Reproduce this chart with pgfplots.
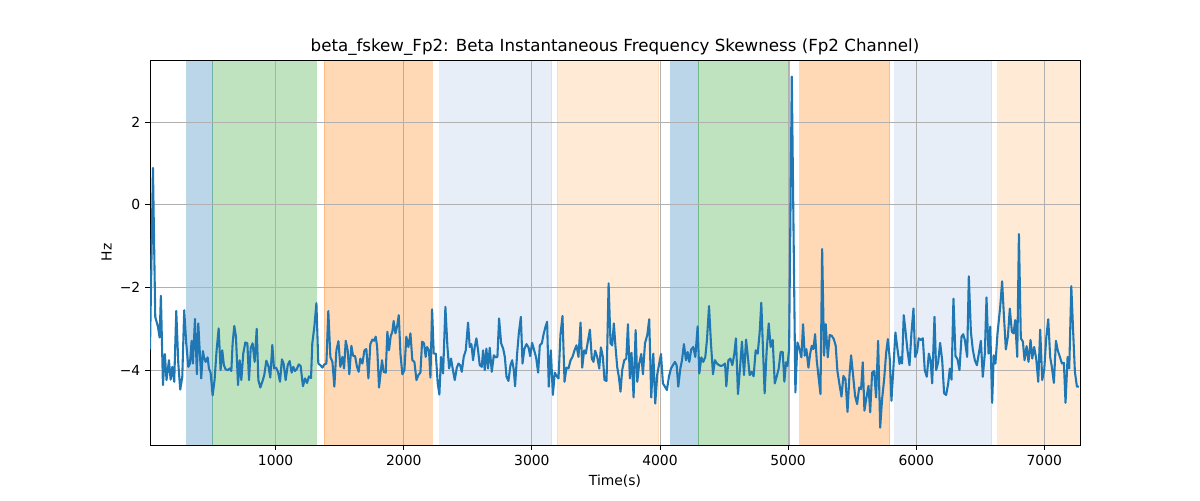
\documentclass[border=0pt]{standalone}
\usepackage{pgfplots}
\pgfplotsset{compat=1.18}
\usepackage{fontspec}
\setmainfont{DejaVu Sans}
\definecolor{tabblue}{HTML}{1F77B4}
\definecolor{tabgreen}{HTML}{2CA02C}
\definecolor{taborange}{HTML}{FF7F0E}
\definecolor{tablblue}{HTML}{AEC7E8}
\definecolor{tablorange}{HTML}{FFBB78}
\definecolor{gridgray}{HTML}{B0B0B0}
\begin{document}
\begin{tikzpicture}
\begin{axis}[
  set layers=standard,
  at={(0,0)}, anchor=south west,
  scale only axis,
  width=669.6pt, height=277.2pt,
  xmin=19, xmax=7279, ymin=-5.81, ymax=3.5,
  xtick={1000,2000,3000,4000,5000,6000,7000},
  xticklabels={1000,2000,3000,4000,5000,6000,7000},
  ytick={-4,-2,0,2},
  yticklabels={−4,−2,0,2},
  grid=major,
  major grid style={gridgray, line width=0.576pt},
  axis line style={black, line width=0.576pt},
  tick style={black, line width=0.576pt},
  tick align=outside,
  major tick length=3.5pt,
  xtick pos=bottom, ytick pos=left,
  tick label style={font=\fontsize{10}{12}\selectfont},
  label style={font=\fontsize{10}{12}\selectfont},
  xlabel={Time(s)}, ylabel={Hz},
  ylabel style={xshift=0pt, yshift=-1pt},
  title={beta\_fskew\_Fp2: Beta Instantaneous Frequency Skewness (Fp2 Channel)},
  title style={font=\fontsize{12}{14}\selectfont, yshift=-6pt},
]
% bands
\addplot[on layer=axis background, forget plot, fill=tabblue, fill opacity=0.3, draw=tabblue, draw opacity=0.3, line width=0.72pt] coordinates {(305,-5.81) (305,3.5) (508,3.5) (508,-5.81)} -- cycle;
\addplot[on layer=axis background, forget plot, fill=tabgreen, fill opacity=0.3, draw=tabgreen, draw opacity=0.3, line width=0.72pt] coordinates {(508,-5.81) (508,3.5) (1316,3.5) (1316,-5.81)} -- cycle;
\addplot[on layer=axis background, forget plot, fill=taborange, fill opacity=0.3, draw=taborange, draw opacity=0.3, line width=0.72pt] coordinates {(1380,-5.81) (1380,3.5) (2222,3.5) (2222,-5.81)} -- cycle;
\addplot[on layer=axis background, forget plot, fill=tablblue, fill opacity=0.3, draw=tablblue, draw opacity=0.3, line width=0.72pt] coordinates {(2279,-5.81) (2279,3.5) (3154,3.5) (3154,-5.81)} -- cycle;
\addplot[on layer=axis background, forget plot, fill=tablorange, fill opacity=0.3, draw=tablorange, draw opacity=0.3, line width=0.72pt] coordinates {(3198,-5.81) (3198,3.5) (3990,3.5) (3990,-5.81)} -- cycle;
\addplot[on layer=axis background, forget plot, fill=tabblue, fill opacity=0.3, draw=tabblue, draw opacity=0.3, line width=0.72pt] coordinates {(4084,-5.81) (4084,3.5) (4297,3.5) (4297,-5.81)} -- cycle;
\addplot[on layer=axis background, forget plot, fill=tabgreen, fill opacity=0.3, draw=tabgreen, draw opacity=0.3, line width=0.72pt] coordinates {(4297,-5.81) (4297,3.5) (5013,3.5) (5013,-5.81)} -- cycle;
\addplot[on layer=axis background, forget plot, fill=taborange, fill opacity=0.3, draw=taborange, draw opacity=0.3, line width=0.72pt] coordinates {(5091,-5.81) (5091,3.5) (5795,3.5) (5795,-5.81)} -- cycle;
\addplot[on layer=axis background, forget plot, fill=tablblue, fill opacity=0.3, draw=tablblue, draw opacity=0.3, line width=0.72pt] coordinates {(5833,-5.81) (5833,3.5) (6589,3.5) (6589,-5.81)} -- cycle;
\addplot[on layer=axis background, forget plot, fill=tablorange, fill opacity=0.3, draw=none] coordinates {(6636,-5.81) (6636,3.5) (7279,3.5) (7279,-5.81)} -- cycle;
\addplot[on layer=axis background, forget plot, draw=tablorange, draw opacity=0.3, line width=0.72pt] coordinates {(6636,-5.81) (6636,3.5)};
% signal
\addplot[tabblue, line width=1.5pt, mark=none, line join=round] coordinates {
(19,-3.5) (42,0.89) (60,-2.71) (81,-2.95) (94,-3.21) (104,-2.2) (120,-4.36) (135,-3.61) (148,-4.24) (167,-3.76)
(180,-4.23) (193,-3.92) (208,-4.28) (224,-2.57) (240,-3.84) (255,-4.47) (271,-4.16) (286,-2.55) (302,-3.35) (318,-3.92)
(331,-3.84) (344,-3.29) (354,-3.84) (370,-2.76) (385,-4.10) (396,-2.87) (406,-3.47) (419,-4.2) (432,-3.54) (440,-3.68)
(453,-3.80) (469,-3.69) (479,-3.96) (492,-4.06) (508,-4.61) (523,-4.24) (539,-3.52) (555,-2.99) (570,-4.0) (583,-3.52)
(596,-3.88) (609,-3.98) (625,-4.0) (641,-3.96) (654,-4.02) (664,-3.35) (677,-2.93) (690,-3.19) (706,-4.36) (719,-3.76)
(732,-4.24) (747,-3.6) (763,-3.33) (779,-3.35) (792,-4.24) (805,-3.47) (820,-3.35) (836,-3.80) (852,-3.0) (865,-4.24)
(880,-4.42) (896,-4.28) (911,-4.12) (927,-3.77) (943,-3.9) (958,-4.18) (974,-3.39) (987,-3.96) (1003,-3.94) (1018,-4.04)
(1034,-4.28) (1049,-3.74) (1062,-3.84) (1078,-4.24) (1094,-3.88) (1109,-3.78) (1125,-4.06) (1138,-3.92) (1151,-4.02) (1164,-3.98)
(1180,-3.86) (1195,-3.9) (1213,-4.39) (1229,-4.2) (1245,-4.31) (1260,-4.15) (1276,-4.19) (1286,-3.35) (1302,-2.95) (1318,-2.38)
(1333,-3.84) (1349,-3.88) (1365,-3.94) (1380,-3.86) (1396,-3.84) (1411,-2.57) (1427,-3.68) (1443,-3.8) (1458,-4.4) (1474,-3.52)
(1490,-3.3) (1505,-3.92) (1521,-3.68) (1534,-3.96) (1547,-3.29) (1562,-3.52) (1575,-4.1) (1591,-3.41) (1604,-3.65) (1620,-3.66)
(1635,-3.92) (1648,-4.04) (1661,-3.72) (1677,-3.84) (1693,-3.52) (1708,-3.49) (1724,-4.2) (1739,-3.37) (1755,-3.26) (1768,-3.29)
(1781,-3.19) (1792,-3.43) (1807,-4.42) (1830,-3.76) (1843,-4.04) (1859,-4.06) (1872,-3.07) (1885,-3.52) (1898,-3.18) (1911,-3.07)
(1921,-2.81) (1935,-3.11) (1948,-2.94) (1961,-2.67) (1974,-3.6) (1989,-4.1) (2005,-4.0) (2020,-3.19) (2036,-3.44) (2052,-3.11)
(2067,-3.76) (2083,-3.8) (2099,-4.24) (2114,-4.12) (2130,-4.06) (2143,-3.31) (2158,-3.35) (2171,-3.68) (2182,-3.44) (2197,-3.52)
(2208,-4.18) (2221,-2.53) (2234,-3.6) (2250,-3.6) (2265,-4.32) (2278,-4.59) (2291,-3.68) (2307,-4.08) (2325,-2.47) (2341,-3.44)
(2354,-3.96) (2369,-3.72) (2385,-4.02) (2398,-4.24) (2414,-3.94) (2427,-3.84) (2440,-3.88) (2453,-4.04) (2468,-3.68) (2484,-3.52)
(2502,-2.85) (2515,-3.44) (2528,-3.37) (2541,-3.76) (2554,-3.44) (2567,-3.23) (2580,-3.52) (2593,-3.88) (2609,-3.92) (2619,-3.52)
(2632,-4.0) (2645,-3.48) (2658,-3.96) (2671,-3.46) (2687,-4.04) (2703,-3.64) (2718,-3.69) (2731,-3.68) (2744,-2.75) (2760,-3.35)
(2776,-3.48) (2789,-3.68) (2802,-4.16) (2817,-4.26) (2833,-3.88) (2846,-3.76) (2859,-4.0) (2869,-4.39) (2885,-3.6) (2898,-3.11)
(2914,-2.71) (2927,-3.84) (2942,-3.48) (2958,-3.37) (2974,-3.45) (2987,-3.66) (3002,-3.34) (3018,-3.52) (3033,-3.69) (3049,-4.06)
(3062,-3.4) (3078,-3.35) (3091,-3.14) (3106,-2.95) (3119,-2.83) (3132,-4.4) (3148,-3.52) (3164,-4.6) (3179,-4.06) (3195,-4.15)
(3208,-4.2) (3223,-3.15) (3239,-2.69) (3255,-4.28) (3270,-3.94) (3286,-3.96) (3302,-3.76) (3317,-3.68) (3333,-3.52) (3348,-3.4)
(3364,-3.68) (3380,-2.85) (3393,-3.94) (3408,-3.52) (3421,-3.6) (3437,-3.31) (3453,-3.02) (3468,-3.72) (3481,-3.8) (3494,-3.53)
(3510,-3.68) (3526,-3.96) (3539,-3.45) (3554,-3.68) (3567,-4.24) (3583,-4.26) (3599,-1.9) (3614,-3.35) (3627,-3.4) (3640,-2.87)
(3653,-3.44) (3666,-3.92) (3679,-4.16) (3692,-4.52) (3705,-4.0) (3721,-3.76) (3737,-3.72) (3750,-2.89) (3765,-4.2) (3778,-3.58)
(3794,-4.66) (3810,-3.03) (3823,-4.28) (3838,-3.84) (3854,-3.61) (3867,-4.1) (3883,-3.35) (3901,-3.15) (3916,-2.77) (3932,-4.66)
(3948,-3.6) (3963,-4.81) (3979,-4.1) (3992,-3.88) (4008,-3.61) (4023,-4.32) (4039,-4.4) (4054,-4.48) (4070,-4.16) (4086,-3.96)
(4101,-3.88) (4117,-3.8) (4130,-3.88) (4143,-4.4) (4159,-3.96) (4172,-3.76) (4187,-3.37) (4203,-3.76) (4216,-3.56) (4229,-3.8)
(4244,-3.5) (4260,-3.44) (4276,-3.68) (4294,-2.94) (4307,-4.08) (4323,-3.69) (4338,-3.8) (4354,-3.68) (4367,-3.26) (4383,-2.45)
(4398,-3.35) (4414,-4.1) (4429,-3.76) (4445,-3.84) (4461,-3.88) (4476,-3.9) (4492,-3.88) (4508,-3.84) (4518,-4.39) (4534,-3.76)
(4549,-3.72) (4565,-3.88) (4580,-3.61) (4593,-3.23) (4609,-4.58) (4625,-3.94) (4640,-3.31) (4656,-4.12) (4672,-3.26) (4685,-3.64)
(4700,-4.12) (4716,-4.04) (4731,-4.15) (4747,-3.52) (4763,-3.6) (4778,-3.1) (4791,-2.37) (4804,-3.48) (4817,-4.56) (4833,-3.52)
(4849,-2.87) (4864,-3.44) (4880,-3.27) (4896,-4.32) (4911,-4.16) (4927,-3.96) (4942,-3.56) (4958,-3.56) (4971,-4.28) (4984,-3.81)
(4995,-3.9) (5008,-3.49) (5029,3.1) (5057,-4.54) (5073,-3.33) (5089,-3.49) (5104,-3.69) (5117,-2.89) (5130,-3.65) (5143,-3.49)
(5159,-3.94) (5172,-3.61) (5185,-3.41) (5198,-3.49) (5211,-3.13) (5224,-3.77) (5240,-4.22) (5253,-4.58) (5266,-1.07) (5281,-3.65)
(5294,-2.89) (5310,-3.69) (5325,-3.15) (5341,-3.17) (5357,-3.25) (5372,-3.41) (5385,-4.02) (5401,-4.34) (5417,-4.64) (5432,-4.14)
(5448,-4.22) (5464,-5.01) (5479,-4.14) (5492,-3.64) (5508,-4.14) (5523,-4.62) (5539,-4.82) (5555,-4.42) (5570,-4.46) (5583,-3.81)
(5596,-4.98) (5612,-4.66) (5628,-4.38) (5641,-5.02) (5656,-4.06) (5672,-4.02) (5687,-4.66) (5703,-3.29) (5719,-5.39) (5734,-4.7)
(5750,-4.22) (5766,-3.57) (5779,-3.25) (5794,-3.73) (5807,-4.74) (5823,-3.9) (5838,-3.09) (5854,-3.49) (5870,-3.85) (5882,-3.68)
(5890,-3.84) (5903,-2.67) (5916,-3.03) (5932,-3.52) (5948,-3.88) (5963,-3.11) (5979,-2.51) (5992,-3.68) (6007,-3.56) (6020,-3.23)
(6036,-3.27) (6052,-3.23) (6067,-4.0) (6083,-4.16) (6099,-3.6) (6112,-3.76) (6125,-4.32) (6143,-2.71) (6156,-4.0) (6172,-3.8)
(6187,-3.34) (6203,-3.76) (6218,-4.56) (6234,-4.6) (6250,-4.32) (6263,-3.96) (6276,-4.23) (6291,-2.27) (6307,-3.66) (6323,-3.74)
(6338,-4.0) (6354,-3.19) (6367,-3.13) (6380,-3.27) (6398,-3.68) (6411,-1.73) (6427,-3.07) (6442,-3.5) (6458,-3.76) (6474,-3.88)
(6489,-3.6) (6505,-3.29) (6520,-4.16) (6536,-3.6) (6549,-2.24) (6565,-3.6) (6578,-2.95) (6593,-4.79) (6606,-3.64) (6619,-3.84)
(6635,-3.11) (6656,-2.47) (6671,-1.85) (6684,-2.63) (6700,-3.5) (6716,-3.19) (6731,-2.51) (6747,-3.07) (6760,-3.11) (6773,-2.79)
(6789,-3.68) (6802,-0.71) (6817,-3.23) (6833,-3.31) (6846,-3.76) (6862,-3.42) (6877,-3.8) (6893,-3.27) (6906,-3.72) (6921,-3.44)
(6937,-3.72) (6953,-4.28) (6968,-3.02) (6984,-4.24) (7000,-3.98) (7015,-3.23) (7031,-2.77) (7046,-3.68) (7059,-3.92) (7075,-4.31)
(7091,-3.29) (7106,-3.53) (7122,-3.68) (7138,-3.84) (7153,-3.82) (7166,-4.79) (7182,-3.68) (7195,-3.96) (7211,-1.97) (7226,-3.11)
(7239,-4.04) (7255,-4.4) (7270,-4.4)
};
\end{axis}
\pgfresetboundingbox
\path[use as bounding box] (-108pt,-39.6pt) rectangle (756pt,320.4pt);
\end{tikzpicture}
\end{document}
